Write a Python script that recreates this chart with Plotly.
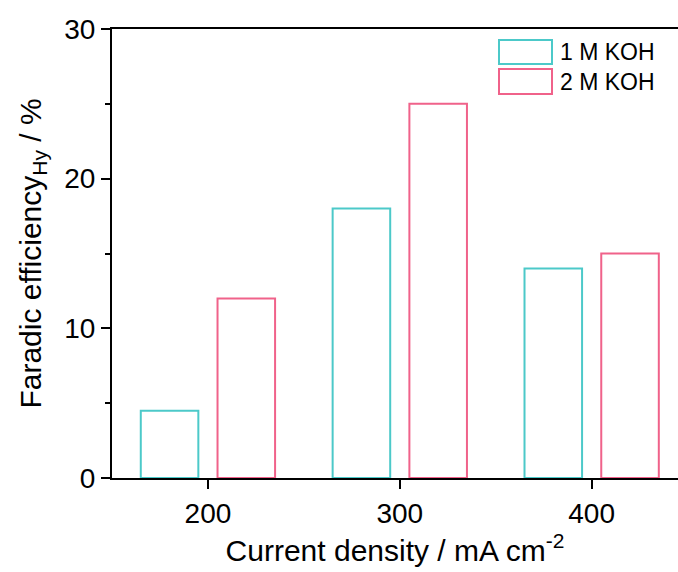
import plotly.graph_objects as go

# Data
current_density = [200, 300, 400]
series_names = ["1 M KOH", "2 M KOH"]
fe_1M = [4.5, 18, 14]
fe_2M = [12, 25, 15]
series_values = [fe_1M, fe_2M]
colors = ["#4CC9C9", "#F0628A"]
offsets = [-35, 5]
y_ticks = [0, 10, 20, 30]
x_ticks = [200, 300, 400]

FONT = "Liberation Sans, Arial, sans-serif"

fig = go.Figure()
for name, vals, col, off in zip(series_names, series_values, colors, offsets):
    fig.add_trace(go.Bar(
        x=current_density, y=vals, name=name,
        width=30, offset=off,
        marker=dict(color="rgba(255,255,255,0)", line=dict(color=col, width=2)),
        showlegend=False,
    ))

# Manual legend (boxes + labels) in paper coordinates
W, H = 678, 572
L, R, T, B = 112, 0, 29, 94
pw, ph = W - L - R, H - T - B

def px_x(x):
    return (x - L) / pw

def px_y(y):
    return 1 - (y - T) / ph

box_rows = [(40, 64), (69, 94)]
for (y0, y1), name, col in zip(box_rows, series_names, colors):
    fig.add_shape(type="rect", xref="paper", yref="paper",
                  x0=px_x(499), x1=px_x(552), y0=px_y(y1), y1=px_y(y0),
                  line=dict(color=col, width=2), fillcolor="rgba(0,0,0,0)")
    fig.add_annotation(xref="paper", yref="paper", x=px_x(558), y=px_y((y0 + y1) / 2),
                       text=name, showarrow=False, xanchor="left", yanchor="middle",
                       font=dict(size=23, color="black", family=FONT))

fig.update_layout(
    width=W, height=H,
    margin=dict(l=L, r=R, t=T, b=B),
    plot_bgcolor="white", paper_bgcolor="white",
    barmode="overlay",
    font=dict(family=FONT, color="black"),
    xaxis=dict(
        range=[150, 445], tickvals=x_ticks, ticktext=[str(v) for v in x_ticks],
        ticks="outside", ticklen=9, tickwidth=2, tickcolor="black",
        showline=True, linecolor="black", linewidth=2, mirror=True,
        showgrid=False, zeroline=False,
        tickfont=dict(size=28),
        title=dict(text="Current density / mA cm<sup>-2</sup>", font=dict(size=30), standoff=12),
    ),
    yaxis=dict(
        range=[0, 30], tickvals=y_ticks,
        ticks="outside", ticklen=9, tickwidth=2, tickcolor="black",
        minor=dict(dtick=5, ticks="outside", ticklen=5, tickwidth=2, tickcolor="black"),
        showline=True, linecolor="black", linewidth=2,
        showgrid=False, zeroline=False,
        tickfont=dict(size=28),
        title=dict(text="Faradic efficiency<sub>Hy</sub> / %", font=dict(size=30), standoff=14),
    ),
)

fig.write_html("out.html")
